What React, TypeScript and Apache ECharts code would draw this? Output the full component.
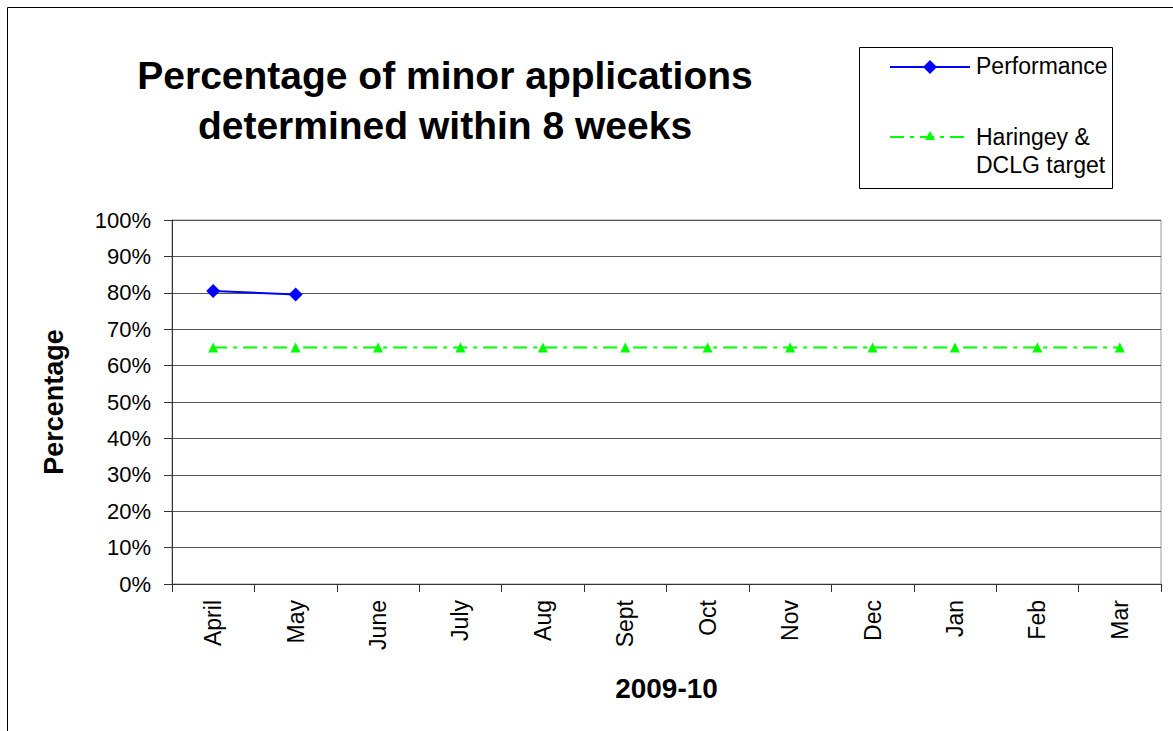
import React, { useEffect, useRef } from "react";
import * as echarts from "echarts";

const months = ["April", "May", "June", "July", "Aug", "Sept", "Oct", "Nov", "Dec", "Jan", "Feb", "Mar"];
const performance: (number | null)[] = [80.5, 79.5, null, null, null, null, null, null, null, null, null, null];
const target: number[] = [65, 65, 65, 65, 65, 65, 65, 65, 65, 65, 65, 65];
const titleText = "Percentage of minor applications\ndetermined within 8 weeks";
const seriesNames = ["Performance", "Haringey &\nDCLG target"];

const FONT = "Liberation Sans, Arial, sans-serif";

export default function App() {
  const ref = useRef<HTMLDivElement>(null);
  useEffect(() => {
    if (!ref.current) return;
    const chart = echarts.init(ref.current, null, { renderer: "svg" });
    chart.setOption({
      animation: false,
      backgroundColor: "#fff",
      title: {
        text: titleText,
        left: 440,
        top: 45,
        textAlign: "center",
        textStyle: { fontFamily: FONT, fontSize: 39, fontWeight: "bold", color: "#000", lineHeight: 50 },
      },
      grid: { left: 172, top: 220, right: 12, bottom: 147, show: true, borderColor: "#999", borderWidth: 1 },
      xAxis: {
        type: "category",
        data: months,
        boundaryGap: true,
        name: "2009-10",
        nameLocation: "middle",
        nameGap: 90,
        nameTextStyle: { fontFamily: FONT, fontSize: 28, fontWeight: "bold", color: "#000" },
        axisLine: { lineStyle: { color: "#333", width: 1 } },
        axisTick: { show: true, length: 8, lineStyle: { color: "#333" } },
        axisLabel: { rotate: 90, fontFamily: FONT, fontSize: 23, color: "#000", margin: 16 },
        splitLine: { show: false },
      },
      yAxis: {
        type: "value",
        min: 0,
        max: 100,
        interval: 10,
        name: "Percentage",
        nameLocation: "middle",
        nameGap: 105,
        nameTextStyle: { fontFamily: FONT, fontSize: 27, fontWeight: "bold", color: "#000" },
        axisLine: { show: true, lineStyle: { color: "#333", width: 1 } },
        axisTick: { show: true, length: 8, lineStyle: { color: "#333" } },
        axisLabel: { formatter: "{value}%", fontFamily: FONT, fontSize: 22, color: "#000", margin: 21 },
        splitLine: { show: true, lineStyle: { color: "#555", width: 1 } },
      },
      series: [
        {
          name: seriesNames[0],
          type: "line",
          data: performance,
          connectNulls: false,
          symbol: "diamond",
          symbolSize: 14,
          lineStyle: { color: "#0000ff", width: 2 },
          itemStyle: { color: "#0000ff" },
        },
        {
          name: seriesNames[1],
          type: "line",
          data: target,
          symbol: "triangle",
          symbolSize: 10,
          lineStyle: { color: "#00ff00", width: 2, type: [14, 6, 4, 6] },
          itemStyle: { color: "#00ff00" },
        },
      ],
      graphic: [
        {
          type: "rect",
          shape: { x: 7.5, y: 7.5, width: 1200, height: 800 },
          style: { fill: "none", stroke: "#000", lineWidth: 1 },
          silent: true,
        },
        {
          type: "rect",
          shape: { x: 859.5, y: 47.5, width: 253, height: 141 },
          style: { fill: "#fff", stroke: "#000", lineWidth: 1 },
        },
        {
          type: "line",
          shape: { x1: 890, y1: 67, x2: 970, y2: 67 },
          style: { stroke: "#0000ff", lineWidth: 2 },
        },
        {
          type: "polygon",
          shape: { points: [[930, 60], [937, 67], [930, 74], [923, 67]] },
          style: { fill: "#0000ff" },
        },
        {
          type: "text",
          x: 976,
          y: 66,
          style: { text: seriesNames[0], fontFamily: FONT, fontSize: 23, fill: "#000", verticalAlign: "middle" },
        },
        {
          type: "line",
          shape: { x1: 890, y1: 137, x2: 970, y2: 137 },
          style: { stroke: "#00ff00", lineWidth: 2, lineDash: [14, 6, 4, 6] },
        },
        {
          type: "polygon",
          shape: { points: [[930, 131], [935, 140], [925, 140]] },
          style: { fill: "#00ff00" },
        },
        {
          type: "text",
          x: 976,
          y: 123,
          style: { text: seriesNames[1], fontFamily: FONT, fontSize: 23, lineHeight: 28, fill: "#000", verticalAlign: "top" },
        },
      ],
    });
    return () => chart.dispose();
  }, []);
  return <div ref={ref} style={{ position: "absolute", left: 0, top: 0, width: 1173, height: 731 }} />;
}
